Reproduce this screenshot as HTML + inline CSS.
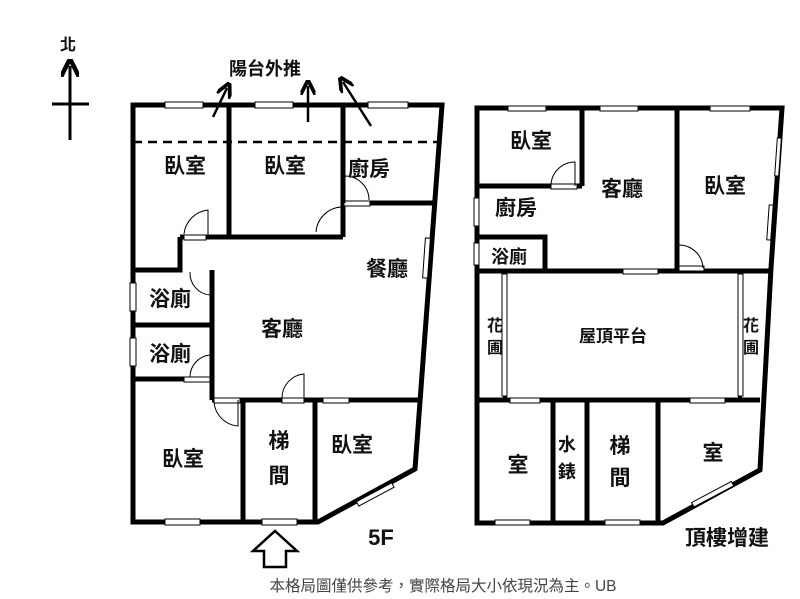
<!DOCTYPE html>
<html><head><meta charset="utf-8"><style>
html,body{margin:0;padding:0;background:#fff;}
svg{display:block;}
text{font-family:"Liberation Sans","Noto Sans CJK TC",sans-serif;fill:#111;}
.b{font-weight:600;}
</style></head><body>
<svg width="800" height="599" viewBox="0 0 800 599" xmlns="http://www.w3.org/2000/svg">
<defs>
<marker id="ah" viewBox="0 0 10 10" refX="6" refY="5" markerWidth="6" markerHeight="6" orient="auto"><path d="M0,0 L10,5 L0,10" fill="none" stroke="#000" stroke-width="2.5"/></marker>
</defs>
<!-- north -->
<text x="68" y="50" font-size="16" text-anchor="middle" class="b">北</text>
<line x1="70" y1="140" x2="70" y2="66" stroke="#000" stroke-width="3" marker-end="url(#ah)"/>
<line x1="52" y1="104" x2="89" y2="104" stroke="#000" stroke-width="3"/>
<text x="265" y="75" font-size="18" text-anchor="middle" class="b">陽台外推</text>
<line x1="213" y1="117" x2="227" y2="88" stroke="#000" stroke-width="2.5" marker-end="url(#ah)"/>
<line x1="308" y1="122" x2="308" y2="86" stroke="#000" stroke-width="2.5" marker-end="url(#ah)"/>
<line x1="371" y1="126" x2="343" y2="82" stroke="#000" stroke-width="2.5" marker-end="url(#ah)"/>

<!-- LEFT PLAN -->
<g stroke="#000" stroke-width="5" fill="none" stroke-linejoin="miter">
<path d="M133,105 L442,105 L415,469 L318,522 L133,522 Z"/>
<line x1="229" y1="105" x2="229" y2="237"/>
<line x1="343" y1="105" x2="343" y2="237"/>
<line x1="180" y1="237" x2="343" y2="237"/>
<line x1="343" y1="203" x2="434" y2="203"/>
<path d="M180,237 L180,270 L133,270"/>
<line x1="212" y1="270" x2="212" y2="400"/>
<line x1="133" y1="325" x2="212" y2="325"/>
<line x1="133" y1="379" x2="212" y2="379"/>
<line x1="212" y1="400" x2="418" y2="400"/>
<line x1="243" y1="400" x2="243" y2="522"/>
<line x1="315" y1="400" x2="315" y2="522"/>
</g>
<line x1="133" y1="142" x2="440" y2="142" stroke="#000" stroke-width="2.5" stroke-dasharray="9,6"/>
<g fill="#fff" stroke="#000" stroke-width="1">
<rect x="165" y="102" width="38" height="6"/><rect x="255" y="102" width="38" height="6"/><rect x="368" y="102" width="40" height="6"/>
<rect x="165" y="519" width="35" height="6"/><rect x="262" y="519" width="35" height="6"/>
<rect x="130" y="283" width="6" height="28"/><rect x="130" y="338" width="6" height="28"/>
<rect x="424" y="238" width="5" height="40" transform="rotate(4 426 258)"/>
<rect x="355" y="492" width="40" height="5" transform="rotate(-28 375 494)"/>
<rect x="184" y="235" width="22" height="5"/><rect x="344" y="201" width="26" height="5"/>
<rect x="282" y="398" width="22" height="5"/><rect x="214" y="398" width="26" height="5"/>
<rect x="323" y="398" width="26" height="5"/><rect x="184" y="377" width="26" height="5"/>
</g>
<g fill="none" stroke="#000" stroke-width="1">
<path d="M208,237 L208,210 A27,27 0 0 0 184,234"/>
<path d="M341,235 L341,207 A27,27 0 0 0 316,232"/>
<path d="M345,203 L345,176 A24,24 0 0 1 369,200"/>
<path d="M304,400 L304,374 A24,24 0 0 0 282,398"/>
<path d="M214,400 A26,26 0 0 0 238,426 L238,400"/>
<path d="M210,377 L210,355 A22,22 0 0 0 190,377"/>
<path d="M210,272 L210,295 A22,22 0 0 1 190,272"/>
</g>
<g font-size="21" text-anchor="middle" class="b">
<text x="185" y="173">臥室</text><text x="285" y="173">臥室</text><text x="369" y="176">廚房</text>
<text x="387" y="276">餐廳</text><text x="170" y="306">浴廁</text><text x="170" y="361">浴廁</text>
<text x="282" y="336">客廳</text><text x="183" y="466">臥室</text>
<text x="279" y="448">梯</text><text x="279" y="483">間</text><text x="352" y="452">臥室</text>
</g>
<text x="381" y="545" font-size="22" text-anchor="middle" class="b">5F</text>
<path d="M275,531 L297,551 L286,551 L286,567 L264,567 L264,551 L253,551 Z" fill="#fff" stroke="#000" stroke-width="2.5"/>

<!-- RIGHT PLAN -->
<g stroke="#000" stroke-width="5" fill="none">
<path d="M477,108 L782,108 L771,268 L760,470 L663,523 L477,523 Z"/>
<line x1="582" y1="108" x2="582" y2="186"/>
<line x1="477" y1="186" x2="582" y2="186"/>
<path d="M477,237 L545,237 L545,271"/>
<line x1="677" y1="108" x2="677" y2="271"/>
<line x1="477" y1="271" x2="771" y2="271"/>
<line x1="477" y1="400" x2="760" y2="400"/>
<line x1="553" y1="400" x2="553" y2="523"/>
<line x1="587" y1="400" x2="587" y2="523"/>
<line x1="658" y1="400" x2="658" y2="523"/>
</g>
<g stroke="#000" stroke-width="4" fill="none">
<line x1="505" y1="271" x2="505" y2="400"/>
<line x1="740" y1="271" x2="740" y2="400"/>
</g>
<g fill="#fff" stroke="#000" stroke-width="1">
<rect x="508" y="106" width="38" height="5"/><rect x="600" y="106" width="38" height="5"/><rect x="710" y="106" width="40" height="5"/>
<rect x="623" y="269" width="35" height="5"/><rect x="510" y="398" width="30" height="5"/><rect x="690" y="398" width="35" height="5"/>
<rect x="495" y="520" width="35" height="5"/><rect x="605" y="520" width="35" height="5"/>
<rect x="474" y="198" width="5" height="28"/><rect x="474" y="243" width="5" height="22"/>
<rect x="776" y="138" width="4" height="38" transform="rotate(4 778 157)"/>
<rect x="768" y="205" width="4" height="35" transform="rotate(4 770 222)"/>
<rect x="690" y="492" width="45" height="5" transform="rotate(-28 712 494)"/>
<rect x="551" y="184" width="26" height="5"/><rect x="679" y="266" width="25" height="5"/>
<rect x="502" y="274" width="5" height="122"/><rect x="738" y="274" width="5" height="122"/>
</g>
<g fill="none" stroke="#000" stroke-width="1">
<path d="M575,186 L575,162 A24,24 0 0 0 551,186"/>
<path d="M679,245 A24,24 0 0 1 703,268"/>
</g>
<g font-size="21" text-anchor="middle" class="b">
<text x="531" y="148">臥室</text><text x="622" y="196">客廳</text><text x="725" y="193">臥室</text>
<text x="516" y="215">廚房</text><text x="518" y="472">室</text>
<text x="620" y="453">梯</text><text x="620" y="485">間</text><text x="713" y="460">室</text>
<text x="727" y="545">頂樓增建</text>
</g>
<g font-size="16" text-anchor="middle" class="b">
<text x="509" y="263" font-size="18">浴廁</text>
<text x="495" y="331">花</text><text x="495" y="353">圃</text>
<text x="751" y="331">花</text><text x="751" y="353">圃</text>
<text x="613" y="342" font-size="17">屋頂平台</text>
<text x="567" y="451" font-size="18">水</text><text x="567" y="478" font-size="18">錶</text>
</g>
<text x="443" y="591" font-size="15.5" text-anchor="middle" style="fill:#444">本格局圖僅供參考，實際格局大小依現況為主。UB</text>
</svg>
</body></html>
